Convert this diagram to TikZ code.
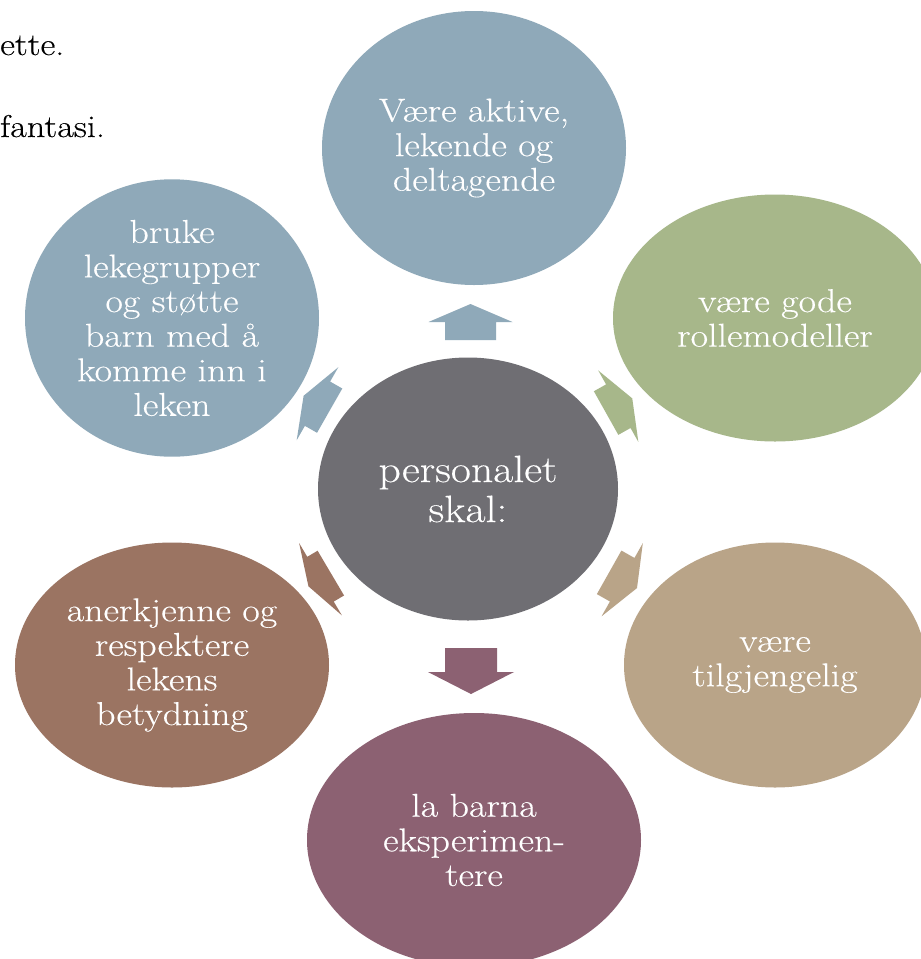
\documentclass[tikz,border=0pt]{standalone}
\usepackage{fontspec}
\setmainfont{Latin Modern Roman}[FakeStretch=1.15,FakeBold=0.3]
\usetikzlibrary{shapes.geometric}
\definecolor{cblue}{RGB}{143,169,185}
\definecolor{cgreen}{RGB}{167,183,138}
\definecolor{ctan}{RGB}{185,164,136}
\definecolor{cmauve}{RGB}{140,97,114}
\definecolor{cbrown}{RGB}{155,116,98}
\definecolor{cgray}{RGB}{111,110,115}
\newcommand{\blockarr}[8]{%
  \begin{scope}[shift={(#2,#3)},rotate=#4]
    \fill[#1] (#5,0) -- (0,#7) -- (0,#8) -- (-#6,#8) -- (-#6,-#8) -- (0,-#8) -- (0,-#7) -- cycle;
  \end{scope}}
\begin{document}
\begin{tikzpicture}[x=1pt,y=-1pt,
  bub/.style={ellipse, inner sep=0pt, text=white, align=center,
    font=\fontsize{33}{34.6}\selectfont},
  hub/.style={ellipse, inner sep=0pt, text=white, align=center,
    font=\fontsize{38}{40}\selectfont},
  doctext/.style={anchor=base west, inner sep=0pt, text=black,
    font=\fontsize{31.5}{33}\selectfont}]
\useasboundingbox (0,0) rectangle (921,959);
\fill[white] (0,0) rectangle (921,959);
\clip (0,0) rectangle (921,959);

\node[doctext] (t1) at (0,55) {ette.};
\node[doctext] (t2) at (0,137) {fantasi.};

\node[hub, fill=cgray, minimum width=300pt, minimum height=263pt] (c) at (468,489) {personalet\\skal:};

\node[bub, fill=cblue, minimum width=304pt, minimum height=274pt] (top) at (474,148) {Være aktive,\\lekende og\\deltagende};
\node[bub, fill=cblue, minimum width=294pt, minimum height=247pt] (tl) at (172,318) {bruke\\lekegrupper\\og støtte\\barn med å\\komme inn i\\leken};
\node[bub, fill=cgreen, minimum width=324pt, minimum height=247pt] (tr) at (775,318) {være gode\\rollemodeller};
\node[bub, fill=ctan, minimum width=302pt, minimum height=245pt] (br) at (775,665) {være\\tilgjengelig};
\node[bub, fill=cmauve, minimum width=334pt, minimum height=254pt] (b) at (474,840) {la barna\\eksperimen-\\tere};
\node[bub, fill=cbrown, minimum width=314pt, minimum height=245pt] (bl) at (172,665) {anerkjenne og\\respektere\\lekens\\betydning};

% block arrows: color, mid x, mid y, angle, head, body, half span, half body
\blockarr{cblue}{470.5}{322}{90}{18}{18}{42}{25.5}
\blockarr{cmauve}{471}{672}{-90}{22}{24}{43}{26}
\blockarr{cblue}{317.5}{403.7}{150.3}{16}{14}{42}{25.5}
\blockarr{cgreen}{618.3}{406.2}{29.3}{16}{14}{41}{25}
\blockarr{cbrown}{320.5}{579.2}{-149.4}{14}{12}{42}{26}
\blockarr{ctan}{622.2}{579.7}{-29.4}{17}{15}{42}{25}
\end{tikzpicture}
\end{document}
